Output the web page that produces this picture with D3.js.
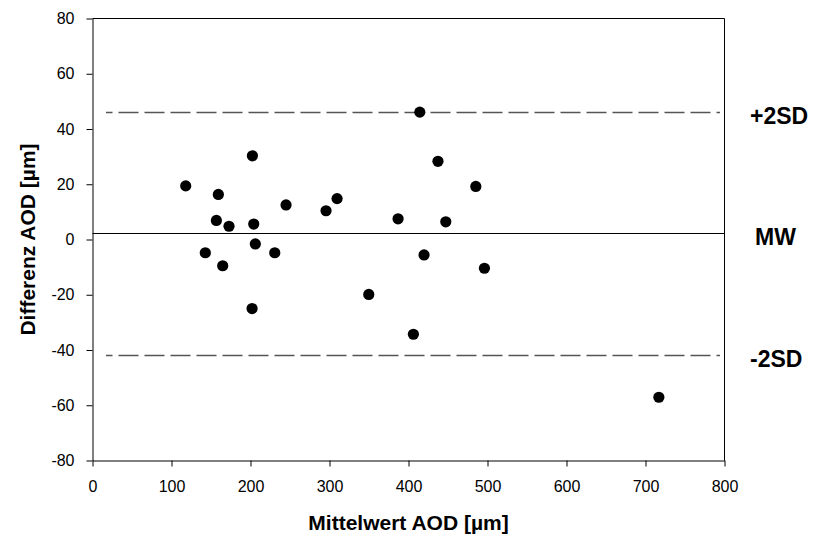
<!DOCTYPE html>
<html>
<head>
<meta charset="utf-8">
<script src="https://cdn.jsdelivr.net/npm/d3@7"></script>
<style>
  html, body { margin: 0; padding: 0; background: #fff; }
  svg { display: block; font-family: "Liberation Sans", Arial, sans-serif; }
</style>
</head>
<body>
<svg id="chart" width="820" height="536"></svg>
<script>
// Bland-Altman data: mean of two AOD measurements vs. their difference
const meanAOD = [118.0, 142.8, 156.8, 159.3, 164.8, 172.8, 202.0, 202.4, 204.1, 206.1,
                 230.7, 245.0, 295.6, 309.6, 349.7, 386.8, 406.2, 414.3, 419.7, 437.3,
                 447.2, 485.2, 496.1, 716.9];
const diffAOD = [19.4, -4.8, 6.9, 16.3, -9.5, 4.8, -25.0, 30.3, 5.6, -1.6,
                 -4.8, 12.5, 10.4, 14.8, -19.9, 7.5, -34.3, 46.1, -5.6, 28.3,
                 6.4, 19.2, -10.4, -57.1];

// Mean difference and limits of agreement
const refLabels = ["+2SD", "MW", "-2SD"];
const refValues = [46.2, 2.2, -41.8];

const xTicks = [0, 100, 200, 300, 400, 500, 600, 700, 800];
const yTicks = [-80, -60, -40, -20, 0, 20, 40, 60, 80];

const svg = d3.select("#chart");
const plot = { left: 92.5, right: 724.5, top: 18.5, bottom: 460.5 };

const x = d3.scaleLinear().domain([0, 800]).range([plot.left, plot.right]);
const y = d3.scaleLinear().domain([-80, 80]).range([plot.bottom, plot.top]);

// Plain hyphen for negative numbers
const fmt = d => String(d);

// Axes
const xAxis = svg.append("g")
  .attr("transform", `translate(0,${plot.bottom})`)
  .call(d3.axisBottom(x).tickValues(xTicks).tickFormat(fmt)
    .tickSize(6).tickPadding(14).tickSizeOuter(0));
const yAxis = svg.append("g")
  .attr("transform", `translate(${plot.left},0)`)
  .call(d3.axisLeft(y).tickValues(yTicks).tickFormat(fmt)
    .tickSize(6).tickPadding(12).tickSizeOuter(0));

[xAxis, yAxis].forEach(g => {
  g.selectAll("text").attr("font-size", 16).attr("fill", "#000")
    .attr("font-family", "'Liberation Sans', Arial, sans-serif");
  g.selectAll("line").attr("stroke", "#000");
  g.select(".domain").attr("stroke", "#000");
});

// Frame: top and right edges
svg.append("path")
  .attr("d", `M${plot.left},${plot.top}H${plot.right}V${plot.bottom}`)
  .attr("fill", "none").attr("stroke", "#000").attr("stroke-width", 1);

// Reference lines
const inset = 13.5;
refValues.forEach((v, i) => {
  const yy = Math.round(y(v)) + 0.5;
  if (refLabels[i] === "MW") {
    svg.append("line")
      .attr("x1", plot.left).attr("x2", plot.right)
      .attr("y1", yy).attr("y2", yy)
      .attr("stroke", "#000").attr("stroke-width", 1);
  } else {
    svg.append("line")
      .attr("x1", plot.left + inset).attr("x2", plot.right - 4.5)
      .attr("y1", yy).attr("y2", yy)
      .attr("stroke", "#555").attr("stroke-width", 1.3)
      .attr("stroke-dasharray", "20,6")
      .attr("stroke-dashoffset", inset);
  }
});

// Labels for the reference lines
svg.append("g").selectAll("text")
  .data(refLabels)
  .join("text")
  .attr("x", d => d === "MW" ? 755 : 750)
  .attr("y", (d, i) => y(refValues[i]) + 12)
  .attr("font-size", 23)
  .attr("font-weight", "bold")
  .attr("fill", "#000")
  .text(d => d);

// Data points
svg.append("g").selectAll("circle")
  .data(meanAOD.map((m, i) => [m, diffAOD[i]]))
  .join("circle")
  .attr("cx", d => x(d[0]))
  .attr("cy", d => y(d[1]))
  .attr("r", 5.6)
  .attr("fill", "#000");

// Axis titles
svg.append("text")
  .attr("x", (plot.left + plot.right) / 2)
  .attr("y", 530)
  .attr("text-anchor", "middle")
  .attr("font-size", 21)
  .attr("font-weight", "bold")
  .text("Mittelwert AOD [µm]");

svg.append("text")
  .attr("transform", `translate(35,${(plot.top + plot.bottom) / 2}) rotate(-90)`)
  .attr("text-anchor", "middle")
  .attr("font-size", 21)
  .attr("font-weight", "bold")
  .text("Differenz AOD [µm]");
</script>
</body>
</html>
